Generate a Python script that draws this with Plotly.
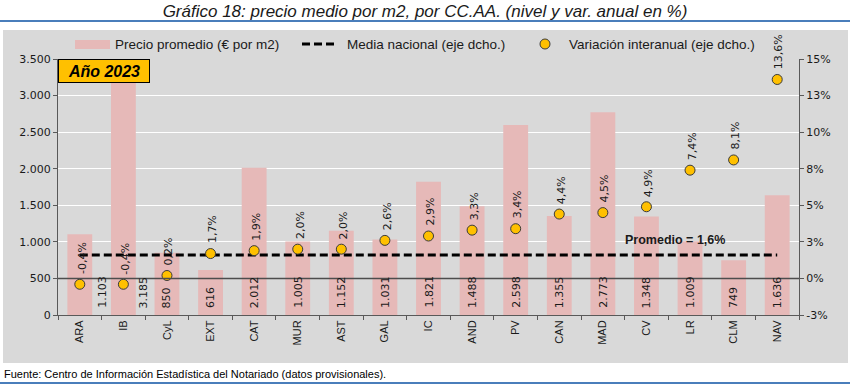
import plotly.graph_objects as go

# ---------------- data ----------------
categorias = ["ARA", "IB", "CyL", "EXT", "CAT", "MUR", "AST", "GAL", "IC",
              "AND", "PV", "CAN", "MAD", "CV", "LR", "CLM", "NAV"]
precio_m2 = [1103, 3185, 850, 616, 2012, 1005, 1152, 1031, 1821,
             1488, 2598, 1355, 2773, 1348, 1009, 749, 1636]
variacion = [-0.4, -0.4, 0.2, 1.7, 1.9, 2.0, 2.0, 2.6, 2.9,
             3.3, 3.4, 4.4, 4.5, 4.9, 7.4, 8.1, 13.6]
media_nacional = 1.6
y2_tickvals = [-2.5, 0, 2.5, 5, 7.5, 10, 12.5, 15]
y2_ticktext = ["-3%", "0%", "3%", "5%", "8%", "10%", "13%", "15%"]
serie_nombres = ["Precio promedio (€ por m2)", "Media nacional (eje dcho.)",
                 "Variación interanual (eje dcho.)"]

# ---------------- layout geometry ----------------
W, H = 850, 385
L, R, T, B = 58, 51, 59, 70
PW, PH = W - L - R, H - T - B


def px_x(p):
    return (p - L) / PW


def px_y(p):
    return (T + PH - p) / PH


BAR_COLOR = "#E6B9B8"
DOT_COLOR = "#FFC000"
DOT_LINE = "#3a3a3a"
AXIS_COLOR = "#595959"
BG = "#D9D9D9"
NUM_FONT = dict(family="DejaVu Sans", size=11, color="#1a1a1a")
LEG_FONT = dict(family="Liberation Sans", size=13.5, color="#1a1a1a")
DASH = "8px,4px"

fmt_num = lambda v: f"{v:,}".replace(",", ".")
fmt_pct = lambda v: f"{v:.1f}".replace(".", ",") + "%"

fig = go.Figure()

fig.add_trace(go.Bar(
    x=categorias, y=precio_m2, name=serie_nombres[0],
    marker=dict(color=BAR_COLOR, line=dict(width=0)), width=0.57,
    yaxis="y", hoverinfo="skip", showlegend=False,
))

# zero line of right axis, drawn above bars but below markers
fig.add_trace(go.Scatter(
    x=[0, 1], y=[0, 0], xaxis="x3", yaxis="y2", mode="lines",
    line=dict(color="#4d4d4d", width=1.5), showlegend=False, hoverinfo="skip",
))

fig.add_trace(go.Scatter(
    x=categorias, y=[media_nacional] * len(categorias), yaxis="y2",
    name=serie_nombres[1], mode="lines",
    line=dict(color="black", width=3, dash=DASH), hoverinfo="skip", showlegend=False,
))

fig.add_trace(go.Scatter(
    x=categorias, y=variacion, yaxis="y2", mode="markers",
    name=serie_nombres[2],
    marker=dict(color=DOT_COLOR, size=10, line=dict(color=DOT_LINE, width=1)),
    hoverinfo="skip", showlegend=False,
))

annotations = []
bar_label_xshift = {"ARA": 22, "IB": 20}
for c, v in zip(categorias, precio_m2):
    annotations.append(dict(
        x=c, y=0, xref="x", yref="y", text=fmt_num(v), textangle=-90,
        showarrow=False, xanchor="center", yanchor="bottom", yshift=5,
        xshift=bar_label_xshift.get(c, 0), font=NUM_FONT,
    ))
for c, v in zip(categorias, variacion):
    annotations.append(dict(
        x=c, y=v, xref="x", yref="y2", text=fmt_pct(v), textangle=-90,
        showarrow=False, xanchor="center", yanchor="bottom", yshift=8, xshift=2,
        font=NUM_FONT,
    ))

# legend (drawn by hand to match the reference spacing)
LEG_Y = 44
leg_text_x = [113, 345, 567]
for name, xp in zip(serie_nombres, leg_text_x):
    annotations.append(dict(x=px_x(xp), y=px_y(LEG_Y), xref="paper", yref="paper",
                            xanchor="left", yanchor="middle", text=name,
                            showarrow=False, font=LEG_FONT))

annotations += [
    dict(x=0, y=1, xref="paper", yref="paper", xanchor="left", yanchor="top",
         text="<b><i>Año 2023</i></b>", showarrow=False,
         font=dict(family="Liberation Sans", size=16, color="black"),
         bgcolor=DOT_COLOR, bordercolor="black", borderwidth=1,
         width=88, height=20, borderpad=1),
    dict(x=px_x(675), y=px_y(240), xref="paper", yref="paper",
         xanchor="center", yanchor="middle",
         text="<b>Promedio = 1,6%</b>", showarrow=False,
         font=dict(family="Liberation Sans", size=12.5, color="#1a1a1a")),
    dict(x=px_x(2), y=px_y(374), xref="paper", yref="paper",
         xanchor="left", yanchor="middle",
         text="Fuente: Centro de Información Estadística del Notariado (datos provisionales).",
         showarrow=False, font=dict(family="Liberation Sans", size=11, color="black")),
]

shapes = [
    dict(type="rect", xref="paper", yref="paper", x0=px_x(3), x1=px_x(848),
         y0=px_y(363), y1=px_y(30), fillcolor=BG, line=dict(width=0), layer="below"),
    dict(type="line", xref="paper", yref="paper", x0=px_x(0), x1=px_x(850),
         y0=px_y(21), y1=px_y(21), line=dict(color="#4a7ebb", width=2)),
    dict(type="line", xref="paper", yref="paper", x0=px_x(0), x1=px_x(850),
         y0=px_y(383), y1=px_y(383), line=dict(color="#4a7ebb", width=2)),
    # legend symbols
    dict(type="rect", xref="paper", yref="paper", x0=px_x(75), x1=px_x(110),
         y0=px_y(49), y1=px_y(40), fillcolor=BAR_COLOR, line=dict(width=0)),
    dict(type="line", xref="paper", yref="paper", x0=px_x(302), x1=px_x(338),
         y0=px_y(LEG_Y), y1=px_y(LEG_Y), line=dict(color="black", width=3, dash=DASH)),
    dict(type="circle", xref="paper", yref="paper", x0=px_x(540), x1=px_x(550),
         y0=px_y(LEG_Y + 5), y1=px_y(LEG_Y - 5), fillcolor=DOT_COLOR,
         line=dict(color=DOT_LINE, width=1)),
]

fig.update_layout(
    width=W, height=H,
    margin=dict(l=L, r=R, t=T, b=B),
    paper_bgcolor="white", plot_bgcolor=BG,
    separators=",.",
    showlegend=False,
    title=dict(text="<i>Gráfico 18: precio medio por m2, por CC.AA. (nivel y var. anual en %)</i>",
               x=0.5, xanchor="center", y=1 - 11 / H, yanchor="middle",
               font=dict(family="Liberation Sans", size=17, color="#1a1a1a")),
    font=dict(family="Liberation Sans", color="#1a1a1a"),
    xaxis=dict(type="category", range=[-0.5, len(categorias) - 0.5], autorange=False,
               tickangle=-90, ticks="outside", tickson="boundaries",
               ticklen=4, tickcolor=AXIS_COLOR, showline=True, linecolor=AXIS_COLOR,
               linewidth=1, showgrid=False,
               tickfont=dict(family="Liberation Sans", size=11, color="#1a1a1a")),
    xaxis3=dict(overlaying="x", range=[0, 1], autorange=False, visible=False),
    yaxis=dict(range=[0, 3500], dtick=500, tickformat=",d", ticks="outside", ticklen=4,
               tickcolor=AXIS_COLOR, showline=True, linecolor=AXIS_COLOR, linewidth=1,
               showgrid=True, gridcolor="white", gridwidth=1, zeroline=False,
               tickfont=NUM_FONT),
    yaxis2=dict(overlaying="y", side="right", range=[-2.5, 15], tickvals=y2_tickvals,
                ticktext=y2_ticktext, ticks="outside", ticklen=4, tickcolor=AXIS_COLOR,
                showline=True, linecolor=AXIS_COLOR, linewidth=1, showgrid=False,
                zeroline=False, tickfont=NUM_FONT),
    annotations=annotations,
    shapes=shapes,
)

fig.write_html("out.html", config={"displayModeBar": False},
               post_script="document.body.style.margin='0';")
